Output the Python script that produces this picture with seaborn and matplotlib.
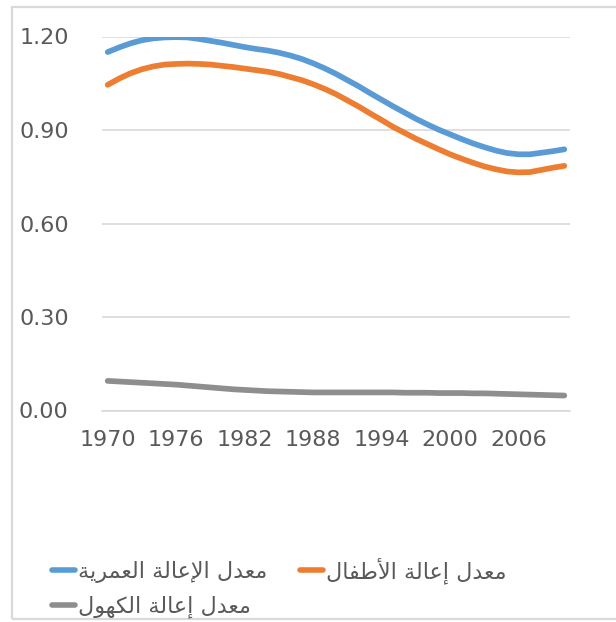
import matplotlib
matplotlib.use("Agg")
import matplotlib.pyplot as plt
from matplotlib.lines import Line2D
from matplotlib.patches import Rectangle
import pandas as pd
import seaborn as sns

years = list(range(1970, 2011))

total_ratio = [1.150, 1.165, 1.178, 1.188, 1.194, 1.197, 1.198, 1.197, 1.192, 1.186,
               1.180, 1.173, 1.166, 1.160, 1.155, 1.148, 1.139, 1.128, 1.114, 1.098,
               1.080, 1.060, 1.040, 1.018, 0.997, 0.976, 0.956, 0.936, 0.918, 0.901,
               0.886, 0.871, 0.857, 0.845, 0.834, 0.826, 0.822, 0.822, 0.827, 0.832,
               0.838]
youth_ratio = [1.045, 1.065, 1.082, 1.095, 1.104, 1.110, 1.112, 1.113, 1.112, 1.110,
               1.106, 1.102, 1.097, 1.092, 1.087, 1.080, 1.070, 1.060, 1.047, 1.032,
               1.015, 0.995, 0.975, 0.953, 0.932, 0.910, 0.891, 0.872, 0.855, 0.838,
               0.822, 0.808, 0.795, 0.783, 0.774, 0.767, 0.764, 0.765, 0.772, 0.779,
               0.785]
elderly_ratio = [0.095, 0.093, 0.091, 0.089, 0.087, 0.085, 0.083, 0.080, 0.077, 0.074,
                 0.071, 0.068, 0.066, 0.064, 0.062, 0.061, 0.060, 0.059, 0.058, 0.058,
                 0.058, 0.058, 0.058, 0.058, 0.058, 0.058, 0.057, 0.057, 0.057, 0.056,
                 0.056, 0.056, 0.055, 0.055, 0.054, 0.053, 0.052, 0.051, 0.050, 0.049,
                 0.048]

series_names = ["معدل الإعالة العمرية", "معدل إعالة الأطفال", "معدل إعالة الكهول"]
series_colors = ["#5B9BD5", "#ED7D31", "#8E8E8E"]
y_ticks = [0.00, 0.30, 0.60, 0.90, 1.20]
x_tick_years = [1970, 1976, 1982, 1988, 1994, 2000, 2006]

# Arabic contextual shaping (isolated, final, initial, medial) so that the
# labels render joined and right-to-left with matplotlib's LTR text engine.
ARABIC_FORMS = {
    "\u0627": ("\uFE8D", "\uFE8E", None, None),
    "\u0623": ("\uFE83", "\uFE84", None, None),
    "\u0625": ("\uFE87", "\uFE88", None, None),
    "\u0629": ("\uFE93", "\uFE94", None, None),
    "\u062F": ("\uFEA9", "\uFEAA", None, None),
    "\u0631": ("\uFEAD", "\uFEAE", None, None),
    "\u0648": ("\uFEED", "\uFEEE", None, None),
    "\u0637": ("\uFEC1", "\uFEC2", "\uFEC3", "\uFEC4"),
    "\u0639": ("\uFEC9", "\uFECA", "\uFECB", "\uFECC"),
    "\u0641": ("\uFED1", "\uFED2", "\uFED3", "\uFED4"),
    "\u0643": ("\uFED9", "\uFEDA", "\uFEDB", "\uFEDC"),
    "\u0644": ("\uFEDD", "\uFEDE", "\uFEDF", "\uFEE0"),
    "\u0645": ("\uFEE1", "\uFEE2", "\uFEE3", "\uFEE4"),
    "\u0647": ("\uFEE9", "\uFEEA", "\uFEEB", "\uFEEC"),
    "\u064A": ("\uFEF1", "\uFEF2", "\uFEF3", "\uFEF4"),
}
LAM_ALEF = {"\u0627": ("\uFEFB", "\uFEFC"),
            "\u0623": ("\uFEF7", "\uFEF8"),
            "\u0625": ("\uFEF9", "\uFEFA")}


def _dual_joining(ch):
    return ch in ARABIC_FORMS and ARABIC_FORMS[ch][2] is not None


def shape_arabic(text):
    out = []
    i, n = 0, len(text)
    while i < n:
        ch = text[i]
        joins_prev = i > 0 and _dual_joining(text[i - 1])
        if ch == "\u0644" and i + 1 < n and text[i + 1] in LAM_ALEF:
            iso, fin = LAM_ALEF[text[i + 1]]
            out.append(fin if joins_prev else iso)
            i += 2
            continue
        if ch in ARABIC_FORMS:
            iso, fin, ini, med = ARABIC_FORMS[ch]
            nxt = text[i + 1] if i + 1 < n else ""
            joins_next = ini is not None and nxt in ARABIC_FORMS
            if joins_prev and joins_next:
                out.append(med)
            elif joins_prev:
                out.append(fin)
            elif joins_next:
                out.append(ini)
            else:
                out.append(iso)
        else:
            out.append(ch)
        i += 1
    return "".join(reversed(out))


df = pd.concat([
    pd.DataFrame({"year": years, "value": vals, "series": name})
    for name, vals in zip(series_names, [total_ratio, youth_ratio, elderly_ratio])
], ignore_index=True)

sns.set_style("white")
plt.rcParams["font.family"] = ["DejaVu Sans"]
plt.rcParams["lines.solid_capstyle"] = "round"

W, H = 616, 622
fig = plt.figure(figsize=(W / 100, H / 100), dpi=100)
fig.patch.set_facecolor("white")

# chart-area frame
fig.add_artist(Rectangle((12 / W, 1 - 619 / H), 1.0, (619 - 7) / H,
                         transform=fig.transFigure, fill=False,
                         edgecolor="#d9d9d9", linewidth=1.6))

ax = fig.add_axes([102 / W, 1 - 410.5 / H, (570 - 102) / W, (410.5 - 36.5) / H])

palette = dict(zip(series_names, series_colors))
sns.lineplot(data=df, x="year", y="value", hue="series", palette=palette,
             linewidth=4.1, legend=False, ax=ax)

ax.set_xlim(years[0] - 0.5, years[-1] + 0.5)
ax.set_ylim(y_ticks[0], y_ticks[-1])
ax.set_yticks(y_ticks)
ax.set_yticklabels([f"{v:.2f}" for v in y_ticks])
ax.set_xticks(x_tick_years)
ax.set_xticklabels([str(y) for y in x_tick_years])
ax.set_xticks([y - 0.5 for y in years] + [years[-1] + 0.5], minor=True)
ax.set_xlabel("")
ax.set_ylabel("")

ax.yaxis.grid(True, color="#d9d9d9", linewidth=1.2)
ax.xaxis.grid(False)
ax.set_axisbelow(True)
for side in ["top", "right", "left"]:
    ax.spines[side].set_visible(False)
ax.spines["bottom"].set_color("#d9d9d9")
ax.spines["bottom"].set_linewidth(1.2)

ax.tick_params(axis="y", length=0, pad=24, labelsize=16, labelcolor="#595959")
ax.tick_params(axis="x", which="major", length=0, pad=14, labelsize=16,
               labelcolor="#595959")
ax.tick_params(axis="x", which="minor", length=4, width=1, color="#d9d9d9",
               direction="out")

handles = [Line2D([], [], color=c, linewidth=4) for c in series_colors]
order = [0, 2, 1]
fig.legend([handles[i] for i in order],
           [shape_arabic(series_names[i]) for i in order],
           ncol=2, loc="upper left", bbox_to_anchor=(52 / W, 1 - 557 / H),
           bbox_transform=fig.transFigure, frameon=False, fontsize=16,
           handlelength=1.04, handletextpad=0.15, columnspacing=1.45,
           labelspacing=0.57, borderpad=0, borderaxespad=0,
           labelcolor="#595959")

fig.savefig("out.png", dpi=100)
